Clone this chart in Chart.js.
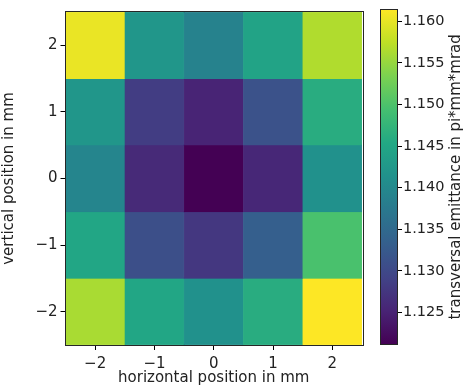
<!DOCTYPE html>
<html>
<head>
<meta charset="utf-8">
<script src="https://cdn.jsdelivr.net/npm/chart.js@4/dist/chart.umd.min.js"></script>
<style>
  html, body { margin: 0; padding: 0; background: #fff; }
  #wrap { position: relative; width: 464px; height: 385px; }
  #heat { position: absolute; left: 0; top: 0; }
  #cbar { position: absolute; left: 370px; top: 0; }
</style>
</head>
<body>
<div id="wrap">
  <canvas id="heat" width="370" height="385"></canvas>
  <canvas id="cbar" width="94" height="385"></canvas>
</div>
<script>
/* ---------------- data ---------------- */
const xPositions = [-2, -1, 0, 1, 2];
const yPositions = [2, 1, 0, -1, -2];          // rows, top to bottom
// emittance per cell, rows follow yPositions, columns follow xPositions
const emittance = [
  [1.1602, 1.1421, 1.1389, 1.1445, 1.1566],
  [1.1421, 1.1284, 1.1252, 1.1313, 1.1461],
  [1.1393, 1.1260, 1.1212, 1.1256, 1.1413],
  [1.1449, 1.1309, 1.1276, 1.1333, 1.1497],
  [1.1562, 1.1449, 1.1413, 1.1461, 1.1614]
];
const colorMin = 1.1212;
const colorMax = 1.1614;
const colorbarTicks = [1.125, 1.130, 1.135, 1.140, 1.145, 1.150, 1.155, 1.160];
const axisTicks = [-2, -1, 0, 1, 2];

// viridis colormap stops
const viridis = ['#440154', '#482475', '#414487', '#355f8d', '#2a788e', '#21918c',
                 '#22a884', '#44bf70', '#7ad151', '#bddf26', '#fde725'];

/* ---------------- helpers ---------------- */
const FONT = 'DejaVu Sans';
const minus = v => (v < 0 ? '\u2212' + Math.abs(v) : String(v));

function hexRgb(h) {
  return [1, 3, 5].map(i => parseInt(h.substr(i, 2), 16));
}
function viridisColor(v) {
  let t = (v - colorMin) / (colorMax - colorMin);
  t = Math.min(1, Math.max(0, t)) * (viridis.length - 1);
  const i = Math.min(viridis.length - 2, Math.floor(t));
  const f = t - i;
  const a = hexRgb(viridis[i]), b = hexRgb(viridis[i + 1]);
  const c = a.map((x, k) => Math.round(x + (b[k] - x) * f));
  return `rgb(${c[0]},${c[1]},${c[2]})`;
}

const framePlugin = {
  id: 'frame',
  afterDraw(chart) {
    const { ctx, chartArea: a } = chart;
    ctx.save();
    ctx.strokeStyle = '#262626';
    ctx.lineWidth = 1;
    ctx.strokeRect(Math.round(a.left) - 0.5, Math.round(a.top) - 0.5,
      Math.round(a.right - a.left) + 1, Math.round(a.bottom - a.top) + 1);
    ctx.restore();
  }
};

/* ---------------- heat map ---------------- */
const datasets = yPositions.map((y, r) => ({
  data: xPositions.map(() => [y - 0.5, y + 0.5]),
  backgroundColor: emittance[r].map(viridisColor),
  borderColor: emittance[r].map(viridisColor),
  borderWidth: 0.5,
  borderSkipped: false,
  barPercentage: 1,
  categoryPercentage: 1,
  grouped: false
}));

new Chart(document.getElementById('heat'), {
  type: 'bar',
  data: { labels: xPositions.map(minus), datasets },
  options: {
    responsive: false,
    animation: false,
    layout: { padding: { top: 8, right: 8, left: 0, bottom: 0 } },
    plugins: { legend: { display: false }, tooltip: { enabled: false } },
    scales: {
      x: {
        grid: { display: true, offset: false, drawOnChartArea: false, tickLength: 5, color: '#000' },
        border: { display: false },
        ticks: { color: '#222', font: { family: FONT, size: 15 }, padding: 5, maxRotation: 0 },
        title: { display: true, text: 'horizontal position in mm', color: '#222',
                 font: { family: FONT, size: 15 }, padding: { top: 0, bottom: -2 } },
        afterFit(s) { s.height = 40; }
      },
      y: {
        min: -2.5, max: 2.5,
        afterBuildTicks(s) { s.ticks = axisTicks.map(v => ({ value: v })); },
        grid: { display: true, drawOnChartArea: false, tickLength: 5, color: '#000' },
        border: { display: false },
        ticks: { color: '#222', font: { family: FONT, size: 15 }, padding: 3, callback: minus },
        title: { display: true, text: 'vertical position in mm', color: '#222',
                 font: { family: FONT, size: 15 }, padding: { top: 0, bottom: 0 } },
        afterFit(s) { s.width = 65.5; }
      }
    }
  },
  plugins: [framePlugin]
});

/* ---------------- colorbar ---------------- */
const cbarTitle = 'transversal emittance in pi*mm*mrad';
const cbarTitlePlugin = {
  id: 'cbarTitle',
  afterDraw(chart) {
    const { ctx, chartArea: a } = chart;
    ctx.save();
    ctx.translate(86, (a.top + a.bottom) / 2);
    ctx.rotate(-Math.PI / 2);
    ctx.fillStyle = '#222';
    ctx.font = `15px "${FONT}"`;
    ctx.textAlign = 'center';
    ctx.textBaseline = 'middle';
    ctx.fillText(cbarTitle, 0, 0);
    ctx.restore();
  }
};

new Chart(document.getElementById('cbar'), {
  type: 'bar',
  data: {
    labels: [''],
    datasets: [{
      data: [[colorMin, colorMax]],
      backgroundColor(c) {
        const a = c.chart.chartArea;
        if (!a) return viridis[5];
        const g = c.chart.ctx.createLinearGradient(0, a.bottom, 0, a.top);
        viridis.forEach((col, i) => g.addColorStop(i / (viridis.length - 1), col));
        return g;
      },
      borderWidth: 0,
      borderSkipped: false,
      barPercentage: 1,
      categoryPercentage: 1
    }]
  },
  options: {
    responsive: false,
    animation: false,
    layout: { padding: { top: 8, left: 11, right: 0, bottom: 41 } },
    plugins: { legend: { display: false }, tooltip: { enabled: false } },
    scales: {
      x: { display: false },
      y: {
        position: 'right',
        min: colorMin, max: colorMax,
        afterBuildTicks(s) { s.ticks = colorbarTicks.map(v => ({ value: v })); },
        grid: { display: true, drawOnChartArea: false, tickLength: 5, color: '#000' },
        border: { display: false },
        ticks: { color: '#222', font: { family: FONT, size: 14.5 }, padding: 1,
                 callback: v => v.toFixed(3) },
        afterFit(s) { s.width = 67; }
      }
    }
  },
  plugins: [framePlugin, cbarTitlePlugin]
});
</script>
</body>
</html>
